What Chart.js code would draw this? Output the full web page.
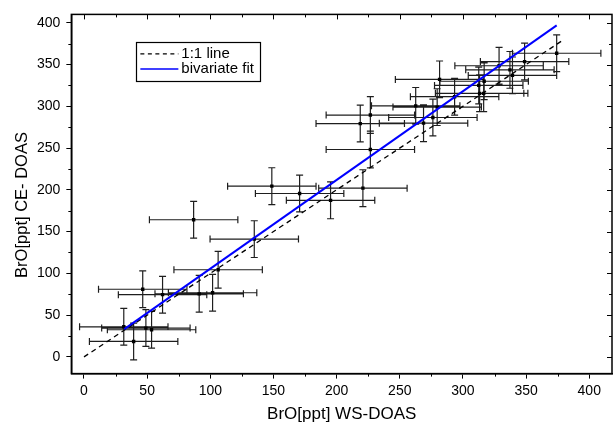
<!DOCTYPE html>
<html>
<head>
<meta charset="utf-8">
<script src="https://cdn.jsdelivr.net/npm/chart.js@4.4.0/dist/chart.umd.min.js"></script>
<style>
  html, body { margin: 0; padding: 0; background: #fff; }
  #wrap { width: 616px; height: 426px; }
</style>
</head>
<body>
<div id="wrap"><canvas id="broChart"></canvas></div>
<script>
// Values
const wsDoas = [31.5, 39.3, 49.0, 53.5, 46.5, 62.2, 91.2, 101.8, 106.2, 86.8,
  134.8, 148.7, 170.7, 195.2, 220.8, 218.7, 226.7, 226.7, 262.6, 268.8,
  276.2, 279.6, 281.5, 293.4, 313.2, 316.4, 316.8, 312.5, 328.6, 337.2,
  339.2, 348.8, 374.2];
const ceDoas = [36.0, 18.5, 34.5, 32.5, 81.0, 74.5, 75.5, 76.8, 104.3, 164.2,
  141.0, 204.4, 195.6, 187.4, 202.0, 279.3, 289.5, 248.3, 300.5, 279.8,
  286.6, 299.0, 332.2, 311.5, 315.5, 315.5, 330.0, 325.0, 348.5, 343.6,
  337.0, 353.5, 363.5];
const wsErr = [35, 35, 35, 35, 35, 35, 35, 35, 35, 35,
  35, 35, 35, 35, 35, 35, 35, 35, 35, 35,
  35, 35, 35, 35, 35, 35, 35, 35, 35, 35,
  35, 35, 35];
const ceErr = [22, 22, 22, 22, 22, 22, 22, 22, 22, 22,
  22, 22, 22, 22, 22, 22, 22, 22, 22, 22,
  22, 22, 22, 22, 22, 22, 22, 22, 22, 22,
  22, 22, 22];

const oneToOneX = [0, 378];
const oneToOneY = [0, 378];
const fitX = [31.9, 374.2];
const fitY = [33.3, 396.8];

const xTickValues = [0, 50, 100, 150, 200, 250, 300, 350, 400];
const yTickValues = [0, 50, 100, 150, 200, 250, 300, 350, 400];
const xMinorTicks = [25, 75, 125, 175, 225, 275, 325, 375];
const yMinorTicks = [25, 75, 125, 175, 225, 275, 325, 375];

const legendLabels = ["1:1 line", "bivariate fit"];
const xTitle = "BrO[ppt] WS-DOAS";
const yTitle = "BrO[ppt] CE- DOAS";

Chart.defaults.font.family = "'Liberation Sans', Arial, sans-serif";
Chart.defaults.color = "#000";

function toPoints(xs, ys) {
  return xs.map((v, i) => ({ x: v, y: ys[i] }));
}

function crisp(v) {
  return Math.round(v) + 0.5;
}

// error bars under the markers
const errorBars = {
  id: "errorBars",
  beforeDatasetsDraw(chart) {
    const { ctx, chartArea: a, scales: { x, y } } = chart;
    const cap = 3.5;
    ctx.save();
    ctx.beginPath();
    ctx.rect(a.left, a.top, a.right - a.left, a.bottom - a.top);
    ctx.clip();
    ctx.strokeStyle = "#1e1e1e";
    ctx.lineWidth = 1.2;
    ctx.beginPath();
    wsDoas.forEach((xv, i) => {
      const yv = ceDoas[i];
      const cx = x.getPixelForValue(xv);
      const cy = y.getPixelForValue(yv);
      const x0 = x.getPixelForValue(xv - wsErr[i]);
      const x1 = x.getPixelForValue(xv + wsErr[i]);
      const y0 = y.getPixelForValue(yv - ceErr[i]);
      const y1 = y.getPixelForValue(yv + ceErr[i]);
      ctx.moveTo(x0, cy); ctx.lineTo(x1, cy);
      ctx.moveTo(x0, cy - cap); ctx.lineTo(x0, cy + cap);
      ctx.moveTo(x1, cy - cap); ctx.lineTo(x1, cy + cap);
      ctx.moveTo(cx, y0); ctx.lineTo(cx, y1);
      ctx.moveTo(cx - cap, y0); ctx.lineTo(cx + cap, y0);
      ctx.moveTo(cx - cap, y1); ctx.lineTo(cx + cap, y1);
    });
    ctx.stroke();
    ctx.restore();
  }
};

// frame, minor and mirrored ticks, legend box, y title
const frameAndLegend = {
  id: "frameAndLegend",
  afterDraw(chart) {
    const { ctx, chartArea: a, scales: { x, y } } = chart;
    ctx.save();
    ctx.strokeStyle = "#000";
    ctx.lineWidth = 1;
    ctx.beginPath();
    xMinorTicks.forEach(v => {
      const px = crisp(x.getPixelForValue(v));
      ctx.moveTo(px, a.bottom); ctx.lineTo(px, a.bottom + 3);
      ctx.moveTo(px, a.top); ctx.lineTo(px, a.top + 3);
    });
    xTickValues.forEach(v => {
      const px = crisp(x.getPixelForValue(v));
      ctx.moveTo(px, a.top); ctx.lineTo(px, a.top + 5);
    });
    yMinorTicks.forEach(v => {
      const py = crisp(y.getPixelForValue(v));
      ctx.moveTo(a.left, py); ctx.lineTo(a.left - 3, py);
      ctx.moveTo(a.right, py); ctx.lineTo(a.right - 3, py);
    });
    yTickValues.forEach(v => {
      const py = crisp(y.getPixelForValue(v));
      ctx.moveTo(a.right, py); ctx.lineTo(a.right - 5, py);
    });
    ctx.stroke();

    ctx.lineWidth = 1.5;
    ctx.strokeRect(a.left, a.top, a.right - a.left, a.bottom - a.top);

    // legend
    const lx = a.left + 65, ly = a.top + 28, lw = 124, lh = 39;
    ctx.fillStyle = "#fff";
    ctx.fillRect(lx, ly, lw, lh);
    ctx.lineWidth = 1.2;
    ctx.strokeStyle = "#000";
    ctx.strokeRect(crisp(lx), crisp(ly), lw, lh);

    const rows = [ly + 11.5, ly + 26.5];
    ctx.lineWidth = 1.3;
    ctx.setLineDash([4, 3.5]);
    ctx.beginPath();
    ctx.moveTo(lx + 4, rows[0]); ctx.lineTo(lx + 42, rows[0]);
    ctx.stroke();
    ctx.setLineDash([]);
    ctx.strokeStyle = "#0000ff";
    ctx.lineWidth = 1.5;
    ctx.beginPath();
    ctx.moveTo(lx + 4, rows[1]); ctx.lineTo(lx + 42, rows[1]);
    ctx.stroke();

    ctx.fillStyle = "#000";
    ctx.font = "15px 'Liberation Sans', Arial, sans-serif";
    ctx.textBaseline = "middle";
    ctx.fillText(legendLabels[0], lx + 45, rows[0]);
    ctx.fillText(legendLabels[1], lx + 45, rows[1]);

    // y axis title, sits a little below the middle of the axis
    ctx.translate(22, (a.top + a.bottom) / 2 + 11);
    ctx.rotate(-Math.PI / 2);
    ctx.textAlign = "center";
    ctx.font = "16.5px 'Liberation Sans', Arial, sans-serif";
    ctx.fillText(yTitle, 0, 0);
    ctx.restore();
  }
};

const ctx = document.getElementById("broChart").getContext("2d");
new Chart(ctx, {
  type: "scatter",
  data: {
    datasets: [
      {
        label: "data",
        data: toPoints(wsDoas, ceDoas),
        pointStyle: "rect",
        pointRadius: 2.4,
        pointBackgroundColor: "#000",
        pointBorderWidth: 0,
        showLine: false,
        order: 3
      },
      {
        label: legendLabels[0],
        data: toPoints(oneToOneX, oneToOneY),
        showLine: true,
        borderColor: "#000",
        borderWidth: 1.3,
        borderDash: [5, 4],
        pointRadius: 0,
        order: 2
      },
      {
        label: legendLabels[1],
        data: toPoints(fitX, fitY),
        showLine: true,
        borderColor: "#0000ff",
        borderWidth: 2,
        pointRadius: 0,
        order: 1
      }
    ]
  },
  options: {
    responsive: true,
    maintainAspectRatio: false,
    animation: false,
    layout: { padding: { left: 31, right: 0, top: 13, bottom: 1 } },
    plugins: {
      legend: { display: false },
      tooltip: { enabled: false }
    },
    scales: {
      x: {
        type: "linear",
        min: -10,
        max: 418,
        afterBuildTicks: axis => { axis.ticks = xTickValues.map(v => ({ value: v })); },
        ticks: { font: { size: 14, lineHeight: 1.0 }, color: "#000", padding: 6, maxRotation: 0 },
        grid: { drawOnChartArea: false, drawTicks: true, tickLength: 5, color: "#000" },
        border: { display: true, color: "#000", width: 1.5 },
        title: {
          display: true,
          text: xTitle,
          font: { size: 17 },
          color: "#000",
          padding: { top: 0, bottom: 0 }
        }
      },
      y: {
        type: "linear",
        min: -20,
        max: 410,
        afterBuildTicks: axis => { axis.ticks = yTickValues.map(v => ({ value: v })); },
        ticks: { font: { size: 14 }, color: "#000", padding: 6 },
        grid: { drawOnChartArea: false, drawTicks: true, tickLength: 5, color: "#000" },
        border: { display: true, color: "#000", width: 1.5 },
        title: { display: false }
      }
    }
  },
  plugins: [errorBars, frameAndLegend]
});
</script>
</body>
</html>
